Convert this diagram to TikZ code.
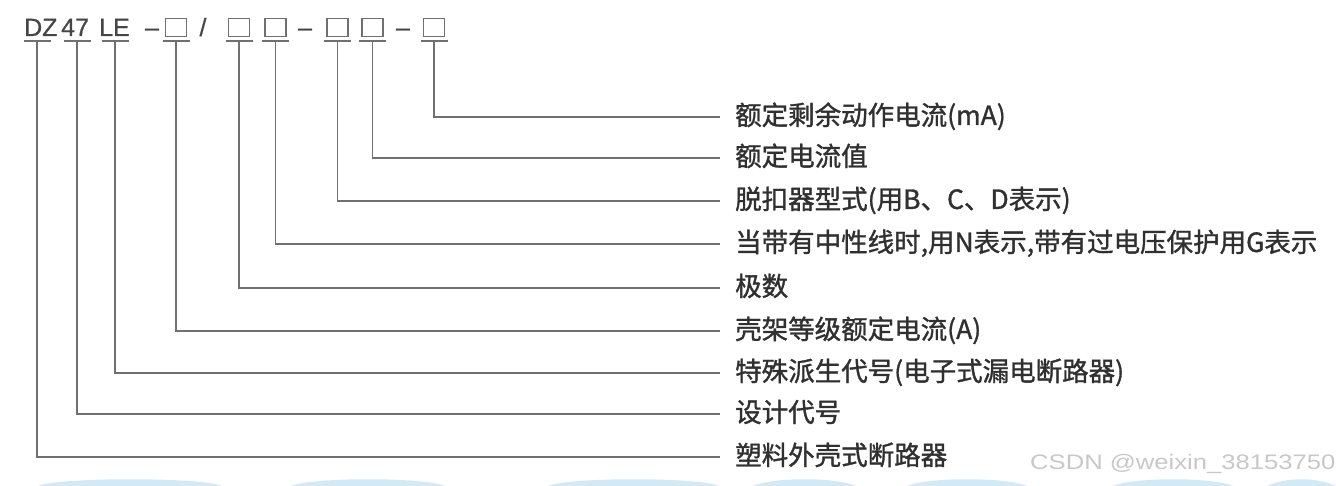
\documentclass[tikz,border=0pt]{standalone}
\usepackage{fontspec}
\usepackage{graphicx}
\setmainfont{Liberation Sans}
\newfontfamily\cjk[FakeBold=1.2]{Noto Sans CJK SC}
\newfontfamily\hdrfont[FakeBold=0.6]{Liberation Sans}
\definecolor{linegray}{RGB}{112,112,112}
\definecolor{txtgray}{RGB}{48,48,48}
\definecolor{hdrgray}{RGB}{70,70,70}
\definecolor{wmgray}{RGB}{200,200,200}
\definecolor{bgblue}{RGB}{208,235,247}
\begin{document}
\begin{tikzpicture}[x=1pt,y=-1pt,
  conn/.style={draw=linegray, line width=1.5pt},
  hdrtxt/.style={anchor=base west, inner sep=0pt, text=hdrgray, font=\hdrfont\fontsize{25}{28}\selectfont},
  hdrsym/.style={anchor=base, inner sep=0pt, text=hdrgray, font=\hdrfont\fontsize{25}{28}\selectfont},
  cellbox/.style={draw=linegray, line width=1.5pt, minimum width=21pt, minimum height=18pt, inner sep=0pt},
  lab/.style={anchor=west, inner sep=0pt, text=txtgray, text height=21.2pt, text depth=5.3pt, font=\cjk\fontsize{26.5}{30}\selectfont},
  hump/.style={fill=bgblue}
]
\useasboundingbox (0,0) rectangle (1336,486);
\fill[white] (0,0) rectangle (1336,486);

% faint decoration at bottom
\foreach \a/\b in {38/222, 291/445, 548/719, 753/856, 907/1027, 1113/1233, 1267/1336}{
  \fill[hump] (\a,486) .. controls (\a+20,477) and (\b-20,477) .. (\b,486) -- cycle;
}

% header tokens
\node[hdrtxt] (tDZ) at (24,36) {DZ};
\node[hdrtxt] (t47) at (61,36) {47};
\node[hdrtxt] (tLE) at (99,36) {LE};
\node[hdrsym] (d1) at (152,36) {–};
\node[cellbox] (b1) at (176,27.5) {};
\node[hdrsym] (sl) at (203,36) {/};
\node[cellbox] (b2) at (239,27.5) {};
\node[cellbox] (b3) at (275.5,27.5) {};
\node[hdrsym] (d2) at (305,36) {–};
\node[cellbox] (b4) at (337.5,27.5) {};
\node[cellbox] (b5) at (372.5,27.5) {};
\node[hdrsym] (d3) at (403,36) {–};
\node[cellbox] (b6) at (434,27.5) {};

% underline anchor points
\coordinate (uDZ) at (37,41);
\coordinate (u47) at (77,41);
\coordinate (uLE) at (115,41);
\coordinate (u1) at ([yshift=-4pt]b1.south);
\coordinate (u2) at ([yshift=-4pt]b2.south);
\coordinate (u3) at ([yshift=-4pt]b3.south);
\coordinate (u4) at ([yshift=-4pt]b4.south);
\coordinate (u5) at ([yshift=-4pt]b5.south);
\coordinate (u6) at ([yshift=-4pt]b6.south);

\foreach \u in {uDZ,u47,uLE,u1,u2,u3,u4,u5,u6}{
  \draw[conn] ([xshift=-13.5pt]\u) -- ([xshift=13.5pt]\u);
}

% labels
\node[lab] (l1) at (735,117) {额定剩余动作电流(mA)};
\node[lab] (l2) at (735,158) {额定电流值};
\node[lab] (l3) at (735,201) {脱扣器型式(用B、C、D表示)};
\node[lab] (l4) at (735,244) {当带有中性线时,用N表示,带有过电压保护用G表示};
\node[lab] (l5) at (735,288) {极数};
\node[lab] (l6) at (735,331) {壳架等级额定电流(A)};
\node[lab] (l7) at (735,373) {特殊派生代号(电子式漏电断路器)};
\node[lab] (l8) at (735,414) {设计代号};
\node[lab] (l9) at (735,457) {塑料外壳式断路器};

% connectors
\draw[conn] (u6) |- ([xshift=-15pt]l1.west);
\draw[conn] (u5) |- ([xshift=-15pt]l2.west);
\draw[conn] (u4) |- ([xshift=-15pt]l3.west);
\draw[conn] (u3) |- ([xshift=-15pt]l4.west);
\draw[conn] (u2) |- ([xshift=-15pt]l5.west);
\draw[conn] (u1) |- ([xshift=-15pt]l6.west);
\draw[conn] (uLE) |- ([xshift=-15pt]l7.west);
\draw[conn] (u47) |- ([xshift=-15pt]l8.west);
\draw[conn] (uDZ) |- ([xshift=-15pt]l9.west);

% watermark
\node[anchor=west, inner sep=0pt, text=wmgray] (wm) at (1030,464)
  {\scalebox{1.22}[1]{\fontsize{21}{24}\selectfont CSDN @weixin\_38153750}};
\end{tikzpicture}
\end{document}
